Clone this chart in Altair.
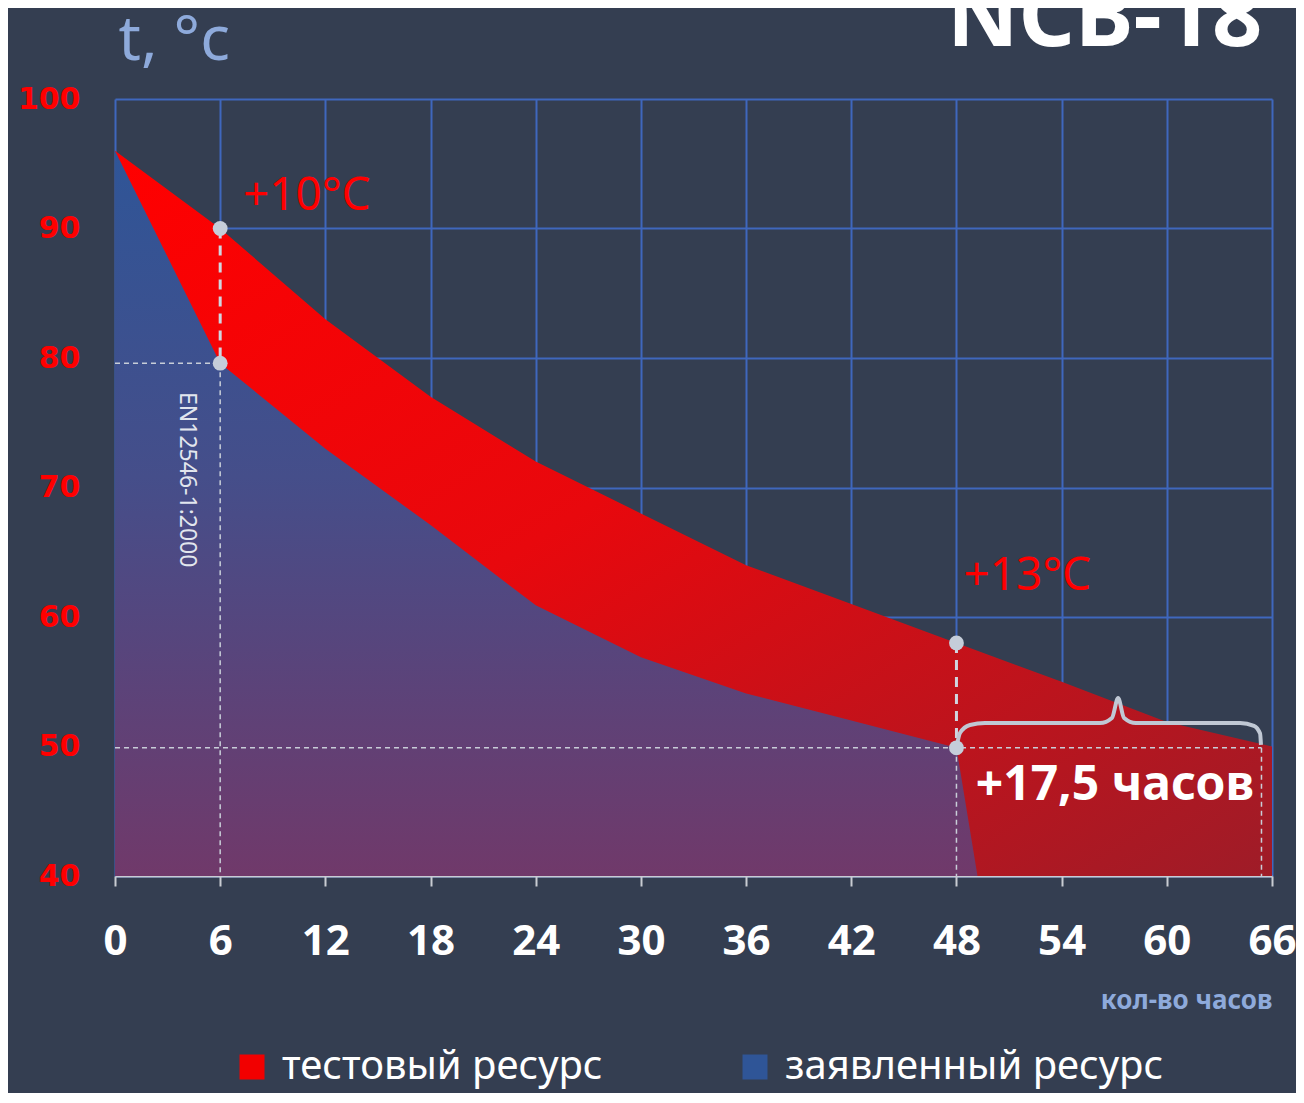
import altair as alt
import pandas as pd

# ---------------- data ----------------
hours_test = [0, 6, 12, 18, 24, 30, 36, 42, 48, 54, 60, 66]
temp_test = [96, 90, 83, 77, 72, 68, 64, 61, 58, 55, 51.9, 50]

hours_decl = [0, 6, 12, 18, 24, 30, 36, 42, 48, 49.2]
temp_decl = [96, 79.6, 73, 67.1, 60.9, 56.9, 54.1, 52, 49.9, 40]

x_ticks = list(range(0, 67, 6))
y_ticks = list(range(40, 101, 10))

legend_names = ["тестовый ресурс", "заявленный ресурс"]
legend_colors = ["#f20000", "#2f5597"]

marker_h = [6, 6, 48, 48]
marker_t = [90, 79.6, 58, 49.9]

thick_h = [6, 48]
thick_t1 = [90, 58]
thick_t2 = [79.6, 49.9]

thin_h1 = [6, 0, 48, 0, 65.4]
thin_h2 = [6, 6, 48, 65.4, 65.4]
thin_t1 = [79.6, 79.6, 49.9, 49.9, 49.9]
thin_t2 = [40, 79.6, 40, 49.9, 40]

brace_h = [48.03, 48.2, 48.77, 49.63, 56.19, 56.87, 57.22, 57.56, 58.24, 64.18, 64.97, 65.32, 65.37]
brace_t = [50.12, 51.04, 51.66, 51.81, 51.81, 52.2, 53.74, 52.2, 51.81, 51.81, 51.6, 51.0, 50.12]

red_labels = ["+10°C", "+13°C"]
red_h = [7.3, 48.4]
red_t = [91.4, 62.1]

gain_label = ["+17,5 часов"]
gain_h = [49.1]
gain_t = [45.9]

std_label = ["EN12546-1:2000"]
std_h = [4.1]
std_t = [70.6]

title_label = ["NCB-18"]
title_h = [65.45]
title_t = [104.1]

# ---------------- tables ----------------
df_test = pd.DataFrame({"h": hours_test, "t": temp_test})
df_decl = pd.DataFrame({"h": hours_decl, "t": temp_decl})
df_marker = pd.DataFrame({"h": marker_h, "t": marker_t})
df_thick = pd.DataFrame({"h": thick_h, "t": thick_t1, "t2": thick_t2})
df_thin = pd.DataFrame({"h": thin_h1, "h2": thin_h2, "t": thin_t1, "t2": thin_t2})
df_brace = pd.DataFrame({"h": brace_h, "t": brace_t})
df_red = pd.DataFrame({"h": red_h, "t": red_t, "label": red_labels})
df_gain = pd.DataFrame({"h": gain_h, "t": gain_t, "label": gain_label})
df_std = pd.DataFrame({"h": std_h, "t": std_t, "label": std_label})
df_title = pd.DataFrame({"h": title_h, "t": title_t, "label": title_label})
df_legend = pd.DataFrame({"h": [0, 0], "t": [96, 96], "series": legend_names})

BG = "#343e51"
GRID = "#3f67bd"

xscale = alt.Scale(domain=[0, 66], nice=False)
yscale = alt.Scale(domain=[40, 100], nice=False, zero=False)

xaxis = alt.Axis(
    values=x_ticks, title="кол-во часов", grid=True, gridColor=GRID, gridWidth=2,
    domain=True, domainColor="#c9ccd3", domainWidth=2,
    ticks=True, tickColor="#c9ccd3", tickSize=10, tickWidth=2,
    labelColor="white", labelFont="Noto Sans", labelFontWeight="bold", labelFontSize=42,
    labelPadding=35, labelOverlap=False, labelFlush=False,
    titleColor="#8eaadb", titleFont="Noto Sans", titleFontWeight="bold", titleFontSize=26,
    titleAnchor="end", titleAlign="right", titleX=1157, titleY=132, titleBaseline="alphabetic",
)
yaxis = alt.Axis(
    values=y_ticks, title="t, °c", grid=True, gridColor=GRID, gridWidth=2,
    domain=False, ticks=False,
    labelColor="#ff0000", labelFont="DejaVu Sans", labelFontWeight="bold", labelFontSize=30,
    labelPadding=35, labelOverlap=False, labelFlush=False,
    titleColor="#8eaadb", titleFont="Noto Sans", titleFontWeight="normal", titleFontSize=62,
    titleAngle=0, titleAlign="left", titleX=3, titleY=-40, titleBaseline="alphabetic",
)


def X(field="h"):
    return alt.X(f"{field}:Q", scale=xscale, axis=xaxis)


def Y(field="t"):
    return alt.Y(f"{field}:Q", scale=yscale, axis=yaxis)


red_grad = alt.Gradient(
    gradient="linear", x1=0, y1=0, x2=1, y2=1,
    stops=[alt.GradientStop(color="#ff0000", offset=0),
           alt.GradientStop(color="#e8080d", offset=0.45),
           alt.GradientStop(color="#9e1c28", offset=1)],
)
blue_grad = alt.Gradient(
    gradient="linear", x1=0, y1=0, x2=0, y2=1,
    stops=[alt.GradientStop(color="#2f5597", offset=0),
           alt.GradientStop(color="#454e8a", offset=0.45),
           alt.GradientStop(color="#70396a", offset=1)],
)

red_area = alt.Chart(df_test).mark_area(color=red_grad, opacity=1).encode(
    x=X(), y=Y(), y2=alt.datum(40)
)
blue_area = alt.Chart(df_decl).mark_area(color=blue_grad, opacity=1).encode(
    x=X(), y=Y(), y2=alt.datum(40)
)

thin_rules = alt.Chart(df_thin).mark_rule(
    color="#c8ced8", strokeWidth=1.5, strokeDash=[5, 4]
).encode(x=X(), x2="h2:Q", y=Y(), y2="t2:Q")

thick_rules = alt.Chart(df_thick).mark_rule(
    color="#d0d6e0", strokeWidth=3, strokeDash=[10, 7]
).encode(x=X(), y=Y(), y2="t2:Q")

brace = alt.Chart(df_brace).mark_line(
    color="#c0c8d4", strokeWidth=4, interpolate="monotone"
).encode(x=X(), y=Y())

markers = alt.Chart(df_marker).mark_circle(
    size=220, color="#c5cdd9", opacity=1
).encode(x=X(), y=Y())

red_text = alt.Chart(df_red).mark_text(
    align="left", baseline="alphabetic", color="#ff0000", font="Noto Sans",
    fontSize=46, fontWeight="normal"
).encode(x=X(), y=Y(), text="label:N")

gain_text = alt.Chart(df_gain).mark_text(
    align="left", baseline="alphabetic", color="white", font="Noto Sans",
    fontSize=48, fontWeight="bold"
).encode(x=X(), y=Y(), text="label:N")

std_text = alt.Chart(df_std).mark_text(
    align="center", baseline="middle", angle=90, color="#e2e6ee", font="Noto Sans",
    fontSize=23, fontWeight="normal"
).encode(x=X(), y=Y(), text="label:N")

title_text = alt.Chart(df_title).mark_text(
    align="right", baseline="alphabetic", color="white", font="Noto Sans",
    fontSize=88, fontWeight="bold"
).encode(x=X(), y=Y(), text="label:N")

legend_layer = alt.Chart(df_legend).mark_square(opacity=0).encode(
    x=X(), y=Y(),
    color=alt.Color(
        "series:N",
        scale=alt.Scale(domain=legend_names, range=legend_colors),
        legend=alt.Legend(
            title=None, orient="none", legendX=117, legendY=948, direction="horizontal",
            symbolType="square", symbolSize=625, symbolStrokeWidth=0, symbolOpacity=1,
            labelFontSize=40, labelFont="Noto Sans", labelColor="white", labelLimit=800,
            labelOffset=10, columnPadding=132,
        ),
    ),
)

chart = alt.layer(
    red_area, blue_area, thin_rules, thick_rules, brace, markers,
    red_text, gain_text, std_text, title_text, legend_layer,
).properties(
    width=1157,
    height=777,
    background=BG,
    autosize=alt.AutoSizeParams(type="none"),
    padding={"left": 107, "top": 91, "right": 24, "bottom": 217},
).configure_view(strokeWidth=0)

chart.save("out.html", embed_options={"renderer": "svg", "actions": False})
